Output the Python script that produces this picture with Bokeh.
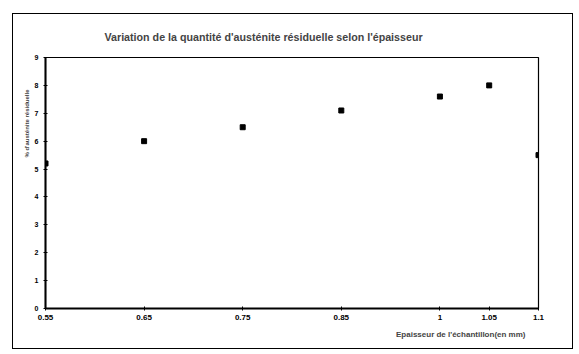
from bokeh.plotting import figure
from bokeh.models import FixedTicker, Range1d, Title
from bokeh.embed import file_html
from bokeh.resources import INLINE

# --- data -------------------------------------------------------------
# axis slots (the original axis spaces 0.55..1 twice as wide as 1..1.1)
axis_slots = ["0.55", "", "0.65", "", "0.75", "", "0.85", "", "1", "1.05", "1.1"]
thickness_labels = ["0.55", "0.65", "0.75", "0.85", "1", "1.05", "1.1"]
austenite = [5.2, 6.0, 6.5, 7.1, 7.6, 8.0, 5.5]
y_ticks = [0, 1, 2, 3, 4, 5, 6, 7, 8, 9]

title_text = "Variation de la quantité d'austénite résiduelle selon l'épaisseur"
x_title = "Epaisseur de l'échantillon(en mm)"
y_title = "% d'austénite résiduelle"

# --- positions through the slot list --------------------------------------
xs = [axis_slots.index(t) for t in thickness_labels]
tick_pos = [i for i, s in enumerate(axis_slots) if s]
overrides = {i: s for i, s in enumerate(axis_slots) if s}

FONT = "Liberation Sans"

p = figure(width=561, height=336, output_backend="svg", toolbar_location=None,
           x_range=Range1d(0, len(axis_slots) - 1), y_range=Range1d(0, 9),
           min_border_left=32, min_border_right=36, min_border_top=42,
           min_border_bottom=42)
p.margin = (13, 0, 0, 12)
p.styles = {"border": "1px solid black"}

p.grid.visible = False
p.outline_line_color = "black"
p.outline_line_width = 1.2
p.background_fill_color = "white"
p.border_fill_color = "white"

for ax in (p.xaxis[0], p.yaxis[0]):
    ax.axis_line_width = 2
    ax.axis_line_color = "black"
    ax.major_tick_in = 2
    ax.major_tick_out = 2
    ax.minor_tick_line_color = None
    ax.major_label_text_font = FONT
    ax.major_label_text_font_style = "bold"
    ax.major_label_text_color = "black"

p.xaxis.major_label_text_font_size = "8px"
p.yaxis.major_label_text_font_size = "7px"
p.xaxis.ticker = FixedTicker(ticks=tick_pos)
p.xaxis.major_label_overrides = overrides
p.xaxis.major_label_standoff = 4
p.yaxis.ticker = FixedTicker(ticks=y_ticks)
p.yaxis.major_label_standoff = 5

p.scatter(xs, austenite, marker="square", size=5, color="black")

p.title.text = title_text
p.title.text_font = FONT
p.title.text_font_style = "bold"
p.title.text_font_size = "10.7px"
p.title.align = "left"
p.title.offset = 59
p.title.standoff = 29

p.add_layout(Title(text=x_title, text_font=FONT, text_font_style="bold",
                   text_font_size="8px", align="right", offset=13,
                   standoff=10), "below")
p.add_layout(Title(text=y_title, text_font=FONT, text_font_style="bold",
                   text_font_size="6px", align="right", offset=32,
                   standoff=4), "left")

open("out.html", "w").write(file_html(p, INLINE))
